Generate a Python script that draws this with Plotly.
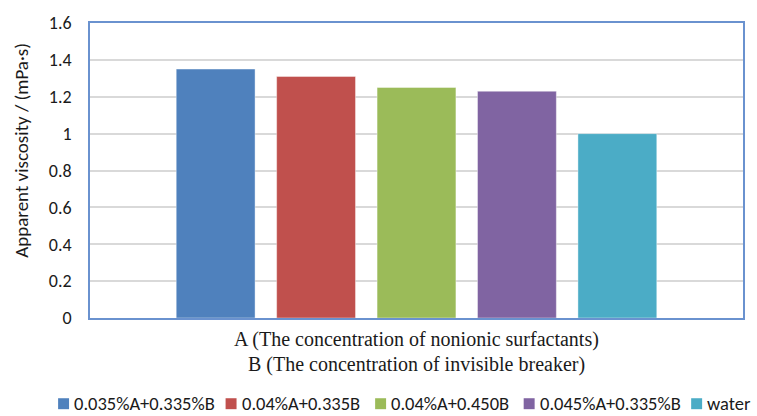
import plotly.graph_objects as go

# Apparent viscosity of each fluid system
series_names = ["0.035%A+0.335%B", "0.04%A+0.335B", "0.04%A+0.450B", "0.045%A+0.335%B", "water"]
viscosity = [1.35, 1.31, 1.25, 1.23, 1.00]
bar_colors = ["#4F81BD", "#C0504D", "#9BBB59", "#8064A2", "#4BACC6"]
y_ticks = [0, 0.2, 0.4, 0.6, 0.8, 1, 1.2, 1.4, 1.6]
y_tick_text = ["0", "0.2", "0.4", "0.6", "0.8", "1", "1.2", "1.4", "1.6"]

W, H = 757, 416
M_L, M_R, M_T, M_B = 90, 12, 22, 98
PLOT_W = W - M_L - M_R
PLOT_H = H - M_T - M_B

def px_x(px):
    return (px - M_L) / PLOT_W

def px_y(py):
    return (H - M_B - py) / PLOT_H

sans = "Carlito, Calibri, sans-serif"
serif = "'Liberation Serif', 'Times New Roman', serif"
text_color = "#1a1a1a"

fig = go.Figure()
for name, val, col in zip(series_names, viscosity, bar_colors):
    fig.add_trace(go.Bar(
        x=["group"], y=[val], name=name,
        marker=dict(color=col, line=dict(color="rgba(255,255,255,0.5)", width=0.8)),
        showlegend=False,
    ))

# Bottom legend row: a coloured square followed by the series label
legend_text_left = [74, 242, 392, 541, 709]
legend_y = 404
shapes, annotations = [], []
for name, col, tx in zip(series_names, bar_colors, legend_text_left):
    shapes.append(dict(
        type="rect", xref="paper", yref="paper",
        x0=px_x(tx - 16), x1=px_x(tx - 5),
        y0=px_y(legend_y + 5.5), y1=px_y(legend_y - 5.5),
        fillcolor=col, line=dict(width=0),
    ))
    annotations.append(dict(
        text=name, xref="paper", yref="paper",
        x=px_x(tx - 2), y=px_y(legend_y), xanchor="left", yanchor="middle",
        showarrow=False, font=dict(family=sans, size=18.5, color=text_color),
    ))

annotations += [
    dict(text="Apparent viscosity / (mPa·s)", textangle=-90,
         xref="paper", yref="paper", x=px_x(21), y=px_y(150),
         xanchor="center", yanchor="middle", showarrow=False,
         font=dict(family=sans, size=19, color=text_color)),
    dict(text="A (The concentration of nonionic surfactants)",
         xref="paper", yref="paper", x=px_x(417), y=px_y(340),
         xanchor="center", yanchor="middle", showarrow=False,
         font=dict(family=serif, size=20, color=text_color)),
    dict(text="B (The concentration of invisible breaker)",
         xref="paper", yref="paper", x=px_x(417), y=px_y(365),
         xanchor="center", yanchor="middle", showarrow=False,
         font=dict(family=serif, size=20, color=text_color)),
]

fig.update_layout(
    width=W, height=H,
    margin=dict(l=M_L, r=M_R, t=M_T, b=M_B),
    paper_bgcolor="white", plot_bgcolor="white",
    barmode="group", bargap=0.231, bargroupgap=0.215,
    showlegend=False,
    xaxis=dict(
        showticklabels=False, ticks="", showgrid=False,
        showline=True, linecolor="#6a92cf", linewidth=1.5, mirror=True,
        range=[-0.5, 0.5],
    ),
    yaxis=dict(
        range=[0, 1.6], tickvals=y_ticks, ticktext=y_tick_text,
        showgrid=True, gridcolor="#d9d9d9", gridwidth=1.5,
        showline=True, linecolor="#6a92cf", linewidth=1.5, mirror=True,
        ticks="", ticklabelstandoff=13,
        tickfont=dict(family=sans, size=18, color=text_color),
        zeroline=False,
    ),
    shapes=shapes,
    annotations=annotations,
)

fig.write_html("out.html")
